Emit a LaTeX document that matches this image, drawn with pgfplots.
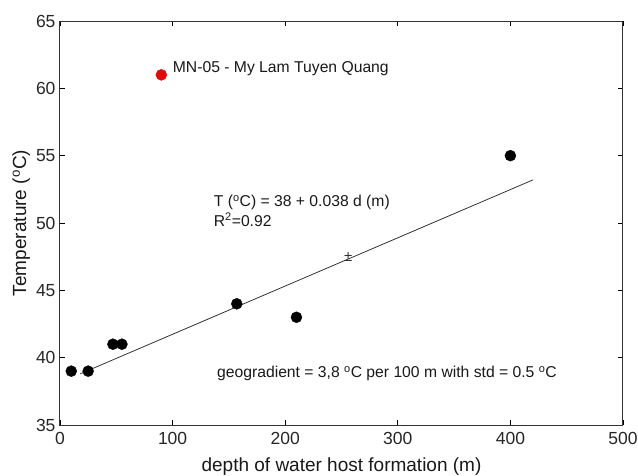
\documentclass[border=0pt]{standalone}
\usepackage{pgfplots}
\pgfplotsset{compat=1.18}
\usepackage{fontspec}
\setmainfont{Liberation Sans}
\definecolor{ptred}{HTML}{E00A0A}
\definecolor{lineg}{HTML}{333333}
\begin{document}
\begin{tikzpicture}
\begin{axis}[
  at={(0,0)}, anchor=south west,
  scale only axis,
  width=563pt, height=404pt,
  xmin=0, xmax=500, ymin=35, ymax=65,
  xtick={0,100,...,500}, ytick={35,40,...,65},
  tick align=inside,
  major tick length=5pt,
  tick style={black, line width=0.8pt},
  axis line style={line width=1pt, lineg},
  /pgf/number format/assume math mode=true,
  tick label style={font=\fontsize{17.5}{20}\selectfont, black!85},
  xticklabel style={yshift=-4pt},
  yticklabel style={xshift=-1pt},
  xlabel={depth of water host formation (m)},
  ylabel={Temperature (\textsuperscript{o}C)},
  label style={font=\fontsize{19}{22}\selectfont, black!90},
  xlabel style={at={(axis description cs:0.5,-0.1163)}, anchor=base},
  ylabel style={at={(axis description cs:-0.06,0.5)}, anchor=base},
  clip=false,
]
\addplot[lineg, line width=0.8pt] coordinates {(18,38.8) (420,53.2)};
\addplot[only marks, mark=*, mark size=5.5pt, black] coordinates {
(10,39) (25,39) (47,41) (55,41) (157,44) (210,43) (400,55)};
\addplot[only marks, mark=*, mark size=5.5pt, ptred, mark options={draw=ptred, fill=ptred}] coordinates {(90,61)};
\addplot[only marks, lineg, mark=text, text mark as node=true, text mark={\textpm}, text mark style={font=\fontsize{15}{15}\selectfont, inner sep=0pt}] coordinates {(256,47.5)};
\node[anchor=base west, inner sep=0pt, font=\fontsize{15.7}{18}\selectfont, black!90] at (axis cs:100.1,61.21) {MN-05 - My Lam Tuyen Quang};
\node[anchor=base west, inner sep=0pt, font=\fontsize{15.7}{18}\selectfont, black!90] at (axis cs:136.5,51.21) {T (\textsuperscript{o}C) = 38 + 0.038 d (m)};
\node[anchor=base west, inner sep=0pt, font=\fontsize{15.7}{18}\selectfont, black!90] at (axis cs:136.5,49.77) {R\textsuperscript{2}=0.92};
\node[anchor=base west, inner sep=0pt, font=\fontsize{15.7}{18}\selectfont, black!90] at (axis cs:139.4,38.53) {geogradient = 3,8 \textsuperscript{o}C per 100 m with std = 0.5 \textsuperscript{o}C};
\end{axis}
\pgfresetboundingbox
\path (-60pt,-50pt) rectangle (578pt,425pt);
\end{tikzpicture}
\end{document}
